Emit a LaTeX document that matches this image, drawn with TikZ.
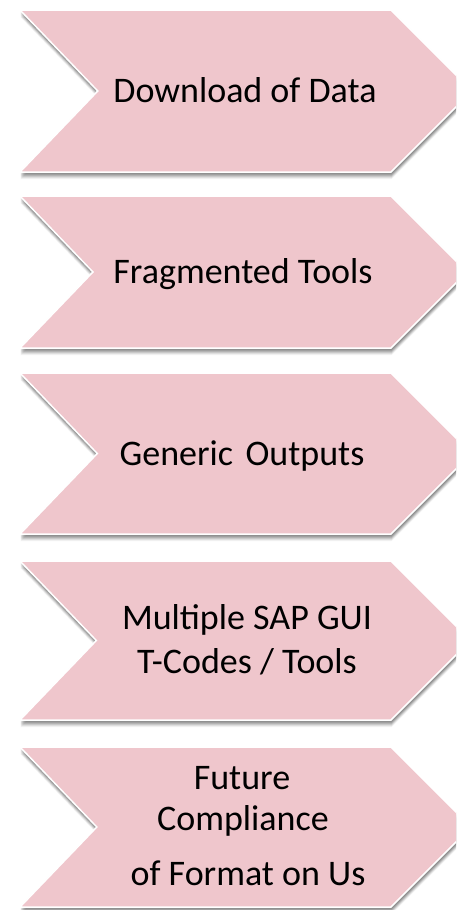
\documentclass[tikz,border=0pt]{standalone}
\usepackage{fontspec}
\setmainfont{Carlito}
\definecolor{chevpink}{RGB}{239,198,204}
\newcommand{\chevpath}[2]{(20,#1) -- (391,#1) -- ({391+0.5*(#2-#1)},{(#1+#2)/2}) -- (391,#2) -- (20,#2) -- ({20+0.48*(#2-#1)},{(#1+#2)/2}) -- cycle}
\newcommand{\chevdraw}[2]{%
  \foreach \s/\o in {2/0.11,3/0.11,4/0.10,5/0.09,6/0.07,7/0.05}{%
    \fill[black,opacity=\o,yshift=-\s pt,xshift=0.5pt] \chevpath{#1}{#2};}%
  \path[chev] \chevpath{#1}{#2};}
\begin{document}
\begin{tikzpicture}[x=1pt,y=-1pt,
  chev/.style={fill=chevpink,draw=white,line width=1.5pt,line join=miter},
  lbl/.style={anchor=base,inner sep=0pt,font=\fontsize{36}{41}\selectfont,text=black}]
\useasboundingbox (0,0) rectangle (456,910);
\fill[white] (0,0) rectangle (456,910);
\clip (0,0) rectangle (456,910);
\chevdraw{10}{172}
\chevdraw{196}{348}
\chevdraw{373}{534}
\chevdraw{561}{720}
\chevdraw{747}{907}
\node[lbl] (t1) at (245,102) {Download of Data};
\node[lbl] (t2) at (243,283) {Fragmented Tools};
\node[lbl] (t3) at (242,465) {Generic\hspace{0.12em} Outputs};
\node[lbl] (t4a) at (247,629) {Multiple SAP GUI};
\node[lbl] (t4b) at (247,673) {T-Codes / Tools};
\node[lbl] (t5a) at (242,789) {Future};
\node[lbl] (t5b) at (243,830) {Compliance};
\node[lbl] (t5c) at (248,885) {of Format on Us};
\end{tikzpicture}
\end{document}
